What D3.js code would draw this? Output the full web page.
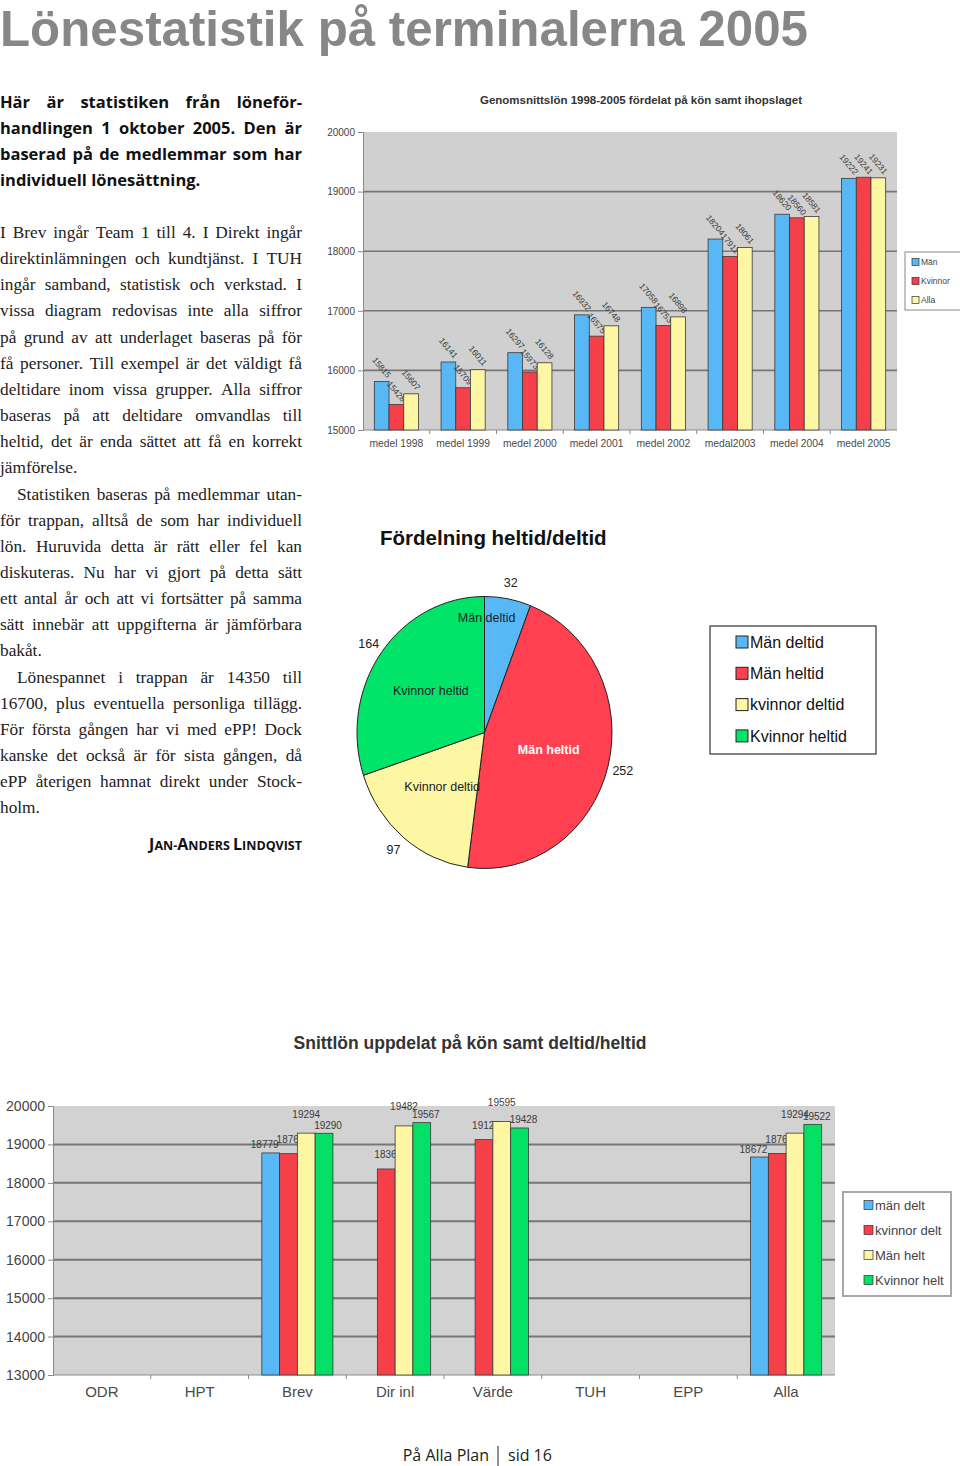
<!DOCTYPE html>
<html>
<head>
<meta charset="utf-8">
<script src="https://cdn.jsdelivr.net/npm/d3@7/dist/d3.min.js"></script>
<style>
  body { margin: 0; background: #fff; }
  svg { display: block; }
</style>
</head>
<body>
<div id="page"></div>
<script>
// ---- 数据 ----
// 图1：1998-2005 平均工资
const years = ["medel 1998", "medel 1999", "medel 2000", "medel 2001", "medel 2002", "medal2003", "medel 2004", "medel 2005"];
const yearSeries = ["Män", "Kvinnor", "Alla"];
const manByYear = [15815, 16141, 16297, 16932, 17058, 18204, 18620, 19222];
const womenByYear = [15428, 15709, 15973, 16575, 16753, 17911, 18560, 19241];
const allByYear = [15607, 16011, 16128, 16748, 16898, 18061, 18581, 19231];
const yearTicks = [15000, 16000, 17000, 18000, 19000, 20000];

// 图2：饼图
const pieNames = ["Män deltid", "Män heltid", "Kvinnor deltid", "Kvinnor heltid"];
const pieLegend = ["Män deltid", "Män heltid", "kvinnor deltid", "Kvinnor heltid"];
const pieValues = [32, 252, 97, 164];

// 图3：按部门
const groups = ["ODR", "HPT", "Brev", "Dir inl", "Värde", "TUH", "EPP", "Alla"];
const groupSeries = ["män delt", "kvinnor delt", "Män helt", "Kvinnor helt"];
const manDelt = [null, null, 18779, null, null, null, null, 18672];
const kvinnorDelt = [null, null, 18760, 18361, 19125, null, null, 18766];
const manHelt = [null, null, 19294, 19482, 19595, null, null, 19294];
const kvinnorHelt = [null, null, 19290, 19567, 19428, null, null, 19522];
const groupTicks = [13000, 14000, 15000, 16000, 17000, 18000, 19000, 20000];

// ---- 样式 ----
const COL = { blue: "#58b8f6", red: "#f5404a", yellow: "#fdf6a2", green: "#04df66" };
const SANS = "'Liberation Sans', Arial, sans-serif";
const SERIF = "'Liberation Serif', 'Times New Roman', serif";
const HUM = "'Open Sans', 'Noto Sans', sans-serif";

const svg = d3.select("#page").append("svg")
    .attr("width", 960)
    .attr("height", 1466);

// ---- 标题 ----
svg.append("text")
    .attr("x", 0).attr("y", 46)
    .attr("font-family", SANS)
    .attr("font-weight", 700)
    .attr("font-size", 50)
    .attr("fill", "#878787")
    .attr("textLength", 808)
    .attr("lengthAdjust", "spacingAndGlyphs")
    .text("Lönestatistik på terminalerna 2005");

// ---- 左栏文字 ----
const colW = 302;

// 两端对齐：按词间距分配多余宽度
function textLine(x, y, width, line, style, justify) {
    const t = svg.append("text").attr("y", y);
    Object.entries(style).forEach(([k, v]) => t.attr(k, v));
    if (!justify) {
        t.attr("x", x).text(line);
        return t;
    }
    const words = line.split(" ");
    const widths = words.map(w => {
        const tmp = t.append("tspan").text(w);
        const l = tmp.node().getComputedTextLength();
        tmp.remove();
        return l;
    });
    const gap = (width - d3.sum(widths)) / (words.length - 1);
    let cx = x;
    words.forEach((w, i) => {
        t.append("tspan").attr("x", cx).text(w);
        cx += widths[i] + gap;
    });
    return t;
}

const introLines = [
    "Här är statistiken från löneför-",
    "handlingen 1 oktober 2005. Den är",
    "baserad på de medlemmar som har",
    "individuell lönesättning."
];
const introStyle = { "font-family": HUM, "font-weight": 700, "font-size": 16.5, "fill": "#111" };
introLines.forEach((line, i) => {
    textLine(0, 108 + i * 26, colW, line, introStyle, i < introLines.length - 1);
});

// 每段：行文本，第一行是否缩进
const paragraphs = [
    { indent: false, lines: [
        "I Brev ingår Team 1 till 4. I Direkt ingår",
        "direktinlämningen och kundtjänst. I TUH",
        "ingår samband, statistisk och verkstad. I",
        "vissa diagram redovisas inte alla siffror",
        "på grund av att underlaget baseras på för",
        "få personer. Till exempel är det väldigt få",
        "deltidare inom vissa grupper. Alla siffror",
        "baseras på att deltidare omvandlas till",
        "heltid, det är enda sättet att få en korrekt",
        "jämförelse."
    ]},
    { indent: true, lines: [
        "Statistiken baseras på medlemmar utan-",
        "för trappan, alltså de som har individuell",
        "lön. Huruvida detta är rätt eller fel kan",
        "diskuteras. Nu har vi gjort på detta sätt",
        "ett antal år och att vi fortsätter på samma",
        "sätt innebär att uppgifterna är jämförbara",
        "bakåt."
    ]},
    { indent: true, lines: [
        "Lönespannet i trappan är 14350 till",
        "16700, plus eventuella personliga tillägg.",
        "För första gången har vi med ePP! Dock",
        "kanske det också är för sista gången, då",
        "ePP återigen hamnat direkt under Stock-",
        "holm."
    ]}
];
const bodyStyle = { "font-family": SERIF, "font-size": 17.3, "fill": "#222" };
let lineNo = 0;
paragraphs.forEach(p => {
    p.lines.forEach((line, i) => {
        const x0 = (p.indent && i === 0) ? 17 : 0;
        textLine(x0, 238 + lineNo * 26.15, colW - x0, line, bodyStyle, i < p.lines.length - 1);
        lineNo++;
    });
});

// 署名（小型大写）
const sig = svg.append("text")
    .attr("x", colW).attr("y", 850)
    .attr("text-anchor", "end")
    .attr("font-family", HUM)
    .attr("font-weight", 700)
    .attr("fill", "#111");
[["J", 16], ["AN-", 12.5], ["A", 16], ["NDERS ", 12.5], ["L", 16], ["INDQVIST", 12.5]]
    .forEach(([s, fs]) => sig.append("tspan").attr("font-size", fs).text(s));

// ---- 分组柱状图通用函数 ----
function drawBars(cfg) {
    const g = svg.append("g");
    const x0 = d3.scaleBand().domain(cfg.categories).range([cfg.left, cfg.right]);
    const x1 = d3.scaleBand().domain(cfg.series).range([0, x0.bandwidth()]).paddingOuter(cfg.outer);
    const y = d3.scaleLinear().domain(cfg.domain).range([cfg.bottom, cfg.top]);

    // 绘图区背景
    g.append("rect")
        .attr("x", cfg.left).attr("y", cfg.top)
        .attr("width", cfg.right - cfg.left).attr("height", cfg.bottom - cfg.top)
        .attr("fill", cfg.bg);

    // 网格线
    g.selectAll("line.grid")
        .data(cfg.ticks.slice(1, -1))
        .enter().append("line")
        .attr("x1", cfg.left).attr("x2", cfg.right)
        .attr("y1", d => y(d)).attr("y2", d => y(d))
        .attr("stroke", "#767676")
        .attr("stroke-width", cfg.gridW);

    // 坐标轴
    const yAxis = g.append("g")
        .attr("transform", `translate(${cfg.left},0)`)
        .call(d3.axisLeft(y).tickValues(cfg.ticks).tickSize(5).tickPadding(3).tickFormat(d3.format("d")));
    yAxis.select(".domain").attr("stroke", "#8a8a8a");
    yAxis.selectAll(".tick line").attr("stroke", "#8a8a8a");
    yAxis.selectAll("text")
        .attr("font-family", SANS).attr("font-size", cfg.tickFs).attr("fill", "#444");

    const xAxis = g.append("g")
        .attr("transform", `translate(0,${cfg.bottom})`);
    xAxis.append("line")
        .attr("x1", cfg.left).attr("x2", cfg.right)
        .attr("stroke", "#8a8a8a");
    xAxis.selectAll("line.sep")
        .data(cfg.categories.slice(1))
        .enter().append("line")
        .attr("x1", d => x0(d)).attr("x2", d => x0(d))
        .attr("y1", 0).attr("y2", 4)
        .attr("stroke", "#8a8a8a");
    xAxis.selectAll("text")
        .data(cfg.categories)
        .enter().append("text")
        .attr("x", d => x0(d) + x0.bandwidth() / 2)
        .attr("y", cfg.xLabelDy)
        .attr("text-anchor", "middle")
        .attr("font-family", SANS)
        .attr("font-size", cfg.xFs)
        .attr("fill", "#4a4a4a")
        .text(d => d);

    // 柱子
    const rows = [];
    cfg.categories.forEach((c, ci) => {
        cfg.series.forEach((s, si) => {
            const v = cfg.values[si][ci];
            if (v != null) rows.push({ c, s, si, v });
        });
    });
    const bars = g.selectAll("g.bar")
        .data(rows)
        .enter().append("g")
        .attr("transform", d => `translate(${x0(d.c) + x1(d.s)},0)`);
    bars.append("rect")
        .attr("y", d => y(d.v))
        .attr("width", x1.bandwidth())
        .attr("height", d => cfg.bottom - y(d.v))
        .attr("fill", d => cfg.colors[d.si])
        .attr("stroke", "#3a3a3a")
        .attr("stroke-width", 0.8);

    // 数值标签
    bars.append("text")
        .attr("transform", d => {
            const lx = x1.bandwidth() / 2 + cfg.labelShift[d.si];
            const ly = y(d.v) - cfg.labelLift[d.si];
            return `translate(${lx},${ly}) rotate(${cfg.labelRot})`;
        })
        .attr("text-anchor", "middle")
        .attr("dy", "0.35em")
        .attr("font-family", SANS)
        .attr("font-size", cfg.labelFs)
        .attr("fill", "#3a3a3a")
        .text(d => d.v);

    // 图例
    const lg = svg.append("g").attr("transform", `translate(${cfg.legend.x},${cfg.legend.y})`);
    lg.append("rect")
        .attr("width", cfg.legend.w).attr("height", cfg.legend.h)
        .attr("fill", "#fff")
        .attr("stroke", cfg.legend.stroke)
        .attr("stroke-width", cfg.legend.sw);
    const items = lg.selectAll("g.item")
        .data(cfg.series)
        .enter().append("g")
        .attr("transform", (d, i) => `translate(${cfg.legend.pad},${cfg.legend.first + i * cfg.legend.step})`);
    items.append("rect")
        .attr("y", -cfg.legend.sq / 2)
        .attr("width", cfg.legend.sq).attr("height", cfg.legend.sq)
        .attr("fill", (d, i) => cfg.colors[i])
        .attr("stroke", "#333").attr("stroke-width", 0.7);
    items.append("text")
        .attr("x", cfg.legend.sq + 2)
        .attr("dy", "0.35em")
        .attr("font-family", SANS)
        .attr("font-size", cfg.legend.fs)
        .attr("fill", "#444")
        .text(d => d);

    // 标题
    svg.append("text")
        .attr("x", cfg.title.x).attr("y", cfg.title.y)
        .attr("text-anchor", "middle")
        .attr("font-family", SANS)
        .attr("font-weight", 700)
        .attr("font-size", cfg.title.fs)
        .attr("fill", "#333")
        .text(cfg.title.text);
}

// ---- 图1 ----
drawBars({
    categories: years,
    series: yearSeries,
    values: [manByYear, womenByYear, allByYear],
    colors: [COL.blue, COL.red, COL.yellow],
    domain: [15000, 20000],
    ticks: yearTicks,
    left: 363, right: 897, top: 132, bottom: 430,
    outer: 0.77,
    bg: "#d0d0d0",
    gridW: 1.6,
    tickFs: 10,
    xFs: 10.3, xLabelDy: 17,
    labelLift: [14, 13, 14],
    labelShift: [0, 0, 0],
    labelRot: 50,
    labelFs: 8.5,
    legend: { x: 905, y: 252, w: 70, h: 58, stroke: "#888", sw: 1, pad: 7, first: 10, step: 19, sq: 7, fs: 8.5 },
    title: { x: 641, y: 104, fs: 11.5, text: "Genomsnittslön 1998-2005 fördelat på kön samt ihopslaget" }
});

// ---- 图3 ----
drawBars({
    categories: groups,
    series: groupSeries,
    values: [manDelt, kvinnorDelt, manHelt, kvinnorHelt],
    colors: [COL.blue, COL.red, COL.yellow, COL.green],
    domain: [13000, 20000],
    ticks: groupTicks,
    left: 53, right: 835, top: 1106, bottom: 1375,
    outer: 0.75,
    bg: "#d2d2d2",
    gridW: 2,
    tickFs: 14,
    xFs: 15, xLabelDy: 22,
    labelLift: [8, 14, 19, 8],
    labelShift: [-6, 2, 0, 4],
    labelRot: 0,
    labelFs: 10,
    legend: { x: 843, y: 1192, w: 108, h: 104, stroke: "#a8a8a8", sw: 2, pad: 21, first: 13, step: 25, sq: 9, fs: 13 },
    title: { x: 470, y: 1049, fs: 17.5, text: "Snittlön uppdelat på kön samt deltid/heltid" }
});

// ---- 图2：饼图 ----
const pieCx = 484.5, pieCy = 732.5, pieR = 127.5, pieSy = 136 / 127.5;
const pieColors = [COL.blue, "#ff4050", COL.yellow, "#00e46a"];
const arcs = d3.pie().sort(null).value(d => d)(pieValues);
const arc = d3.arc().innerRadius(0).outerRadius(pieR);
const total = d3.sum(pieValues);

svg.append("text")
    .attr("x", 380).attr("y", 545)
    .attr("font-family", SANS)
    .attr("font-weight", 700)
    .attr("font-size", 20.5)
    .attr("fill", "#111")
    .text("Fördelning heltid/deltid");

const pg = svg.append("g")
    .attr("transform", `translate(${pieCx},${pieCy}) scale(1,${pieSy})`);
pg.selectAll("path")
    .data(arcs)
    .enter().append("path")
    .attr("d", arc)
    .attr("fill", (d, i) => pieColors[i])
    .attr("stroke", "#222")
    .attr("stroke-width", 1)
    .attr("vector-effect", "non-scaling-stroke");

// 扇区内名称与外侧数值
function polar(angle, r) {
    return [pieCx + r * Math.sin(angle), pieCy - r * pieSy * Math.cos(angle)];
}
arcs.forEach((d, i) => {
    const mid = (d.startAngle + d.endAngle) / 2;
    const small = d.value / total < 0.1;
    const r = small ? pieR * 0.86 : pieR * 0.52;
    const [lx, ly] = polar(mid, r);
    svg.append("text")
        .attr("x", small ? lx - 18 : lx).attr("y", ly)
        .attr("dy", "0.35em")
        .attr("text-anchor", "middle")
        .attr("font-family", SANS)
        .attr("font-size", 12.5)
        .attr("font-weight", i === 1 ? 700 : 400)
        .attr("fill", i === 1 ? "#fff" : "#222")
        .text(pieNames[i]);
    const [vx, vy] = polar(mid, pieR * 1.12);
    svg.append("text")
        .attr("x", vx).attr("y", vy)
        .attr("dy", "0.35em")
        .attr("text-anchor", "middle")
        .attr("font-family", SANS)
        .attr("font-size", 12.5)
        .attr("fill", "#222")
        .text(d.value);
});

// 饼图图例
const pl = svg.append("g").attr("transform", "translate(710,626)");
pl.append("rect")
    .attr("width", 166).attr("height", 128)
    .attr("fill", "#fff").attr("stroke", "#333").attr("stroke-width", 1.2);
const pItems = pl.selectAll("g.item")
    .data(pieLegend)
    .enter().append("g")
    .attr("transform", (d, i) => `translate(26,${16 + i * 31.3})`);
pItems.append("rect")
    .attr("y", -6).attr("width", 12).attr("height", 12)
    .attr("fill", (d, i) => pieColors[i])
    .attr("stroke", "#222").attr("stroke-width", 1);
pItems.append("text")
    .attr("x", 14).attr("dy", "0.35em")
    .attr("font-family", SANS)
    .attr("font-size", 16)
    .attr("fill", "#111")
    .text(d => d);

// ---- 页脚 ----
svg.append("text")
    .attr("x", 489).attr("y", 1461)
    .attr("text-anchor", "end")
    .attr("font-family", HUM).attr("font-size", 16).attr("fill", "#222")
    .text("På Alla Plan");
svg.append("line")
    .attr("x1", 498).attr("x2", 498).attr("y1", 1446).attr("y2", 1466)
    .attr("stroke", "#222").attr("stroke-width", 1);
svg.append("text")
    .attr("x", 508).attr("y", 1461)
    .attr("font-family", HUM).attr("font-size", 16).attr("fill", "#222")
    .text("sid 16");
</script>
</body>
</html>
